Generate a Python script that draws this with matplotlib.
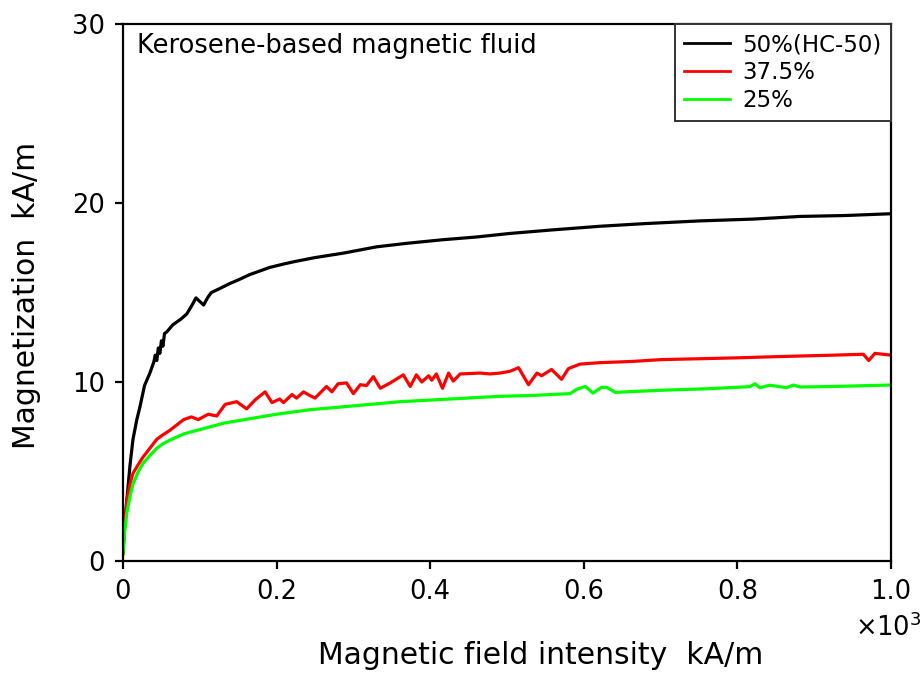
import matplotlib
matplotlib.use("Agg")
import matplotlib.pyplot as plt

# magnetization curves (H in kA/m, M in kA/m)
h_50 = [0, 1, 3, 5, 9, 13, 18, 22, 28, 35, 40, 42, 44, 46, 48, 50, 52, 54, 57, 65, 75,
        83, 90, 95, 100, 105, 110, 115, 125, 139, 150, 165, 178, 191, 210, 226, 250,
        287, 330, 370, 417, 460, 504, 560, 621, 680, 751, 820, 882, 940, 1000]
m_50 = [0.5, 1.3, 2.4, 3.4, 5.3, 6.8, 7.9, 8.6, 9.8, 10.5, 11.1, 11.5, 11.2, 11.9, 11.6,
        12.3, 12.0, 12.7, 12.8, 13.2, 13.5, 13.8, 14.3, 14.7, 14.5, 14.3, 14.7, 15.0,
        15.2, 15.5, 15.7, 16.0, 16.2, 16.4, 16.6, 16.75, 16.95, 17.2, 17.55, 17.75,
        17.95, 18.1, 18.3, 18.5, 18.7, 18.85, 19.0, 19.1, 19.25, 19.3, 19.4]

h_375 = [0, 2, 5, 9, 13, 20, 26, 35, 44, 52, 61, 70, 79, 89, 98, 111, 122, 133, 148,
         161, 172, 185, 194, 204, 209, 220, 226, 235, 243, 250, 265, 272, 280, 291, 300,
         309, 317, 326, 335, 348, 365, 374, 382, 389, 398, 402, 408, 416, 424, 430, 439,
         465, 478, 491, 504, 515, 528, 539, 545, 558, 571, 580, 595, 621, 664, 700, 751,
         800, 838, 880, 925, 964, 971, 979, 1000]
m_375 = [0.4, 1.8, 3.4, 4.3, 4.9, 5.4, 5.8, 6.3, 6.8, 7.05, 7.3, 7.6, 7.9, 8.05, 7.9,
         8.2, 8.1, 8.75, 8.9, 8.5, 9.0, 9.45, 8.85, 9.05, 8.85, 9.3, 9.1, 9.45, 9.25,
         9.1, 9.75, 9.45, 9.9, 9.95, 9.35, 9.85, 9.8, 10.3, 9.65, 9.95, 10.4, 9.75, 10.4,
         10.0, 10.35, 10.1, 10.45, 9.65, 10.5, 10.05, 10.45, 10.5, 10.45, 10.5, 10.6,
         10.8, 9.85, 10.5, 10.35, 10.7, 10.15, 10.75, 11.0, 11.08, 11.15, 11.25, 11.3,
         11.35, 11.4, 11.45, 11.5, 11.55, 11.2, 11.6, 11.5]

h_25 = [0, 2, 5, 9, 13, 20, 26, 35, 44, 52, 61, 79, 105, 131, 165, 200, 243, 296, 361,
        426, 491, 534, 582, 591, 602, 612, 623, 630, 641, 670, 708, 760, 816, 823, 829,
        842, 864, 873, 882, 925, 1000]
m_25 = [0.4, 1.6, 2.7, 3.6, 4.3, 5.0, 5.45, 5.9, 6.3, 6.55, 6.75, 7.1, 7.4, 7.7, 7.95,
        8.2, 8.45, 8.65, 8.9, 9.05, 9.2, 9.25, 9.35, 9.6, 9.75, 9.38, 9.7, 9.7, 9.42,
        9.48, 9.55, 9.62, 9.74, 9.9, 9.68, 9.82, 9.68, 9.83, 9.72, 9.75, 9.83]

labels = ["50%(HC-50)", "37.5%", "25%"]
colors = ["black", "#ff0000", "#00ff00"]

x_ticks = [0, 200, 400, 600, 800, 1000]
x_ticklabels = ["0", "0.2", "0.4", "0.6", "0.8", "1.0"]
y_ticks = [0, 10, 20, 30]

fig = plt.figure(figsize=(9.24, 6.77), dpi=100)
ax = fig.add_axes([123 / 924, 1 - 561 / 677, 768 / 924, 537 / 677])

for h, m, lab, c in zip([h_50, h_375, h_25], [m_50, m_375, m_25], labels, colors):
    ax.plot(h, m, color=c, lw=2.3, label=lab, solid_joinstyle="round")

ax.set_xlim(0, 1000)
ax.set_ylim(0, 30)
ax.set_xticks(x_ticks)
ax.set_xticklabels(x_ticklabels)
ax.set_yticks(y_ticks)
ax.tick_params(direction="out", length=6, width=1.6, labelsize=18.5, pad=7)
for s in ax.spines.values():
    s.set_linewidth(1.6)

leg = ax.legend(loc="upper right", bbox_to_anchor=(1, 1), borderaxespad=0,
                fancybox=False, framealpha=1, edgecolor="#333333", fontsize=16.5,
                handlelength=2.0, handletextpad=0.55, labelspacing=0.22,
                borderpad=0.4)
leg.get_frame().set_linewidth(1.4)
for line in leg.get_lines():
    line.set_linewidth(2.0)

fig.text(137 / 924, 1 - 53 / 677, "Kerosene-based magnetic fluid", fontsize=18.5,
         ha="left", va="baseline")
fig.text(922 / 924, 1 - 628 / 677, r"$\times10^3$", fontsize=18.5, ha="right",
         va="center")
fig.text(541 / 924, 1 - 655 / 677, "Magnetic field intensity  kA/m", fontsize=21.5,
         ha="center", va="center")
fig.text(27 / 924, 1 - 295 / 677, "Magnetization  kA/m", fontsize=21.5,
         rotation=90, ha="center", va="center")

fig.savefig("out.png", dpi=100)
